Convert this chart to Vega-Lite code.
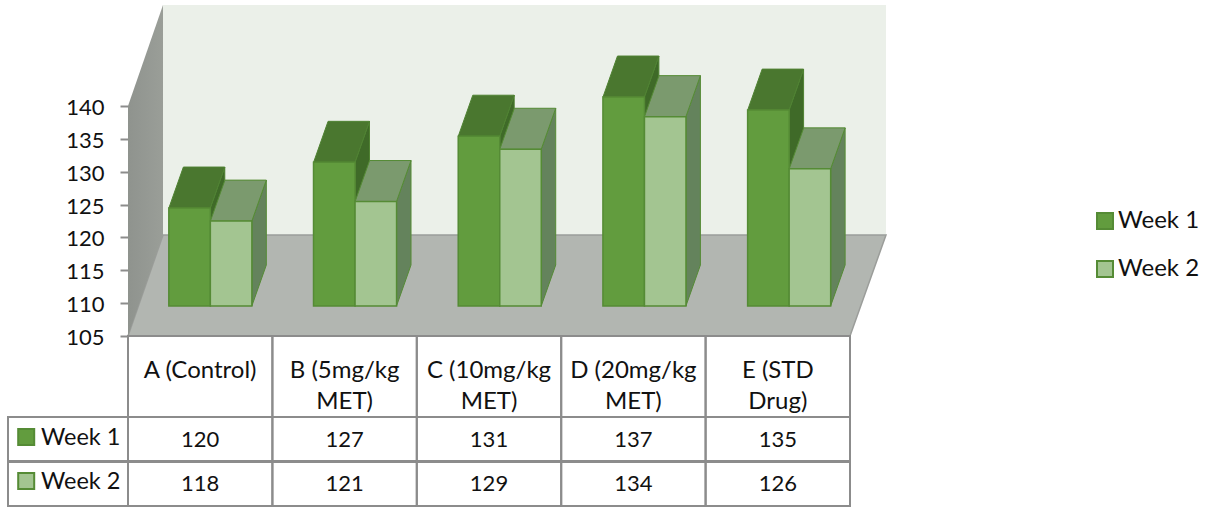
{
  "$schema": "https://vega.github.io/schema/vega-lite/v6.json",
  "width": 1216,
  "height": 507,
  "padding": 0,
  "autosize": {"type": "none"},
  "background": "white",
  "config": {"view": {"stroke": null}, "font": "Lato"},
  "data": {"values": [
    {"group": "A (Control)", "week": "Week 1", "value": 120},
    {"group": "A (Control)", "week": "Week 2", "value": 118},
    {"group": "B (5mg/kg\nMET)", "week": "Week 1", "value": 127},
    {"group": "B (5mg/kg\nMET)", "week": "Week 2", "value": 121},
    {"group": "C (10mg/kg\nMET)", "week": "Week 1", "value": 131},
    {"group": "C (10mg/kg\nMET)", "week": "Week 2", "value": 129},
    {"group": "D (20mg/kg\nMET)", "week": "Week 1", "value": 137},
    {"group": "D (20mg/kg\nMET)", "week": "Week 2", "value": 134},
    {"group": "E (STD\nDrug)", "week": "Week 1", "value": 135},
    {"group": "E (STD\nDrug)", "week": "Week 2", "value": 126}
  ]},
  "resolve": {"scale": {"x": "independent", "y": "independent"}, "axis": {"y": "independent"}},
  "layer": [
    {
      "description": "Chart box: back wall, floor and the left wall carrying the value axis",
      "data": {"values": [{"plane": "chart box"}]},
      "encoding": {
        "x": {"datum": "A (Control)", "type": "nominal", "axis": null,
          "scale": {"type": "band", "domain": ["A (Control)", "B (5mg/kg\nMET)", "C (10mg/kg\nMET)", "D (20mg/kg\nMET)", "E (STD\nDrug)"], "range": [128, 850]}},
        "y": {"datum": 105, "type": "quantitative", "title": null,
          "scale": {"domain": [78.98, 156.13], "range": [507, 0], "nice": false, "zero": false},
          "axis": {"orient": "left", "offset": -128, "values": [105, 110, 115, 120, 125, 130, 135, 140], "grid": false, "domain": false,
            "tickSize": 8, "tickWidth": 2, "tickColor": "#8c8c8c", "labelPadding": 16, "labelFont": "Lato", "labelFontSize": 22, "labelColor": "#111111", "labelBaseline": "middle", "labelOffset": 1.5}}
      },
      "layer": [
        {"mark": {"type": "point", "filled": true, "opacity": 1, "size": 4, "fill": "#ebf0e9", "shape": "M-37.2,-331L685.8,-331L685.8,-101L-37.2,-101Z"}},
        {"mark": {"type": "point", "filled": true, "opacity": 1, "size": 4, "stroke": "#9b9d9a", "strokeWidth": 1.5, "fill": "#b2b6b1", "shape": "M-72.2,0L-37.2,-101L685.8,-101L649.8,0Z"}},
        {"mark": {"type": "point", "filled": true, "opacity": 1, "size": 4,
          "fill": {"gradient": "linear", "x1": 0, "y1": 0, "x2": 1, "y2": 0, "stops": [{"offset": 0, "color": "#8f938e"}, {"offset": 1, "color": "#9a9e98"}]},
          "shape": "M-72.2,-230L-37.2,-331L-37.2,-101L-72.2,0Z"}}
      ]
    },
    {
      "description": "Week 1 column faces first, then Week 2 in front of them",
      "encoding": {
        "x": {"field": "group", "type": "nominal", "axis": null, "sort": null,
          "scale": {"type": "band", "domain": ["A (Control)", "B (5mg/kg\nMET)", "C (10mg/kg\nMET)", "D (20mg/kg\nMET)", "E (STD\nDrug)"], "range": [138, 861.5], "paddingInner": 0.426, "paddingOuter": 0.213}},
        "xOffset": {"field": "week", "type": "nominal", "scale": {"domain": ["Week 1", "Week 2"]}},
        "y": {"field": "value", "type": "quantitative", "axis": null,
          "scale": {"domain": [74.22, 151.86], "range": [507, 0], "nice": false, "zero": false}}
      },
      "layer": [
        {"transform": [{"filter": "datum.week == 'Week 1'"}],
         "mark": {"type": "point", "filled": true, "opacity": 1, "size": 4, "fill": "#3f6a28", "stroke": "#4f8232", "strokeWidth": 1,
           "shape": {"expr": "'M20.7,0L35.2,-41L35.2,' + ((datum.value - 105) * 6.53 - 41) + 'L20.7,' + ((datum.value - 105) * 6.53) + 'Z'"}}},
        {"transform": [{"filter": "datum.week == 'Week 1'"}],
         "mark": {"type": "point", "filled": true, "opacity": 1, "size": 4, "fill": "#4a772f", "stroke": "#4f8232", "strokeWidth": 1, "shape": "M-20.7,0L20.7,0L35.2,-41L-6.2,-41Z"}},
        {"transform": [{"filter": "datum.week == 'Week 1'"}],
         "mark": {"type": "bar", "stroke": "#558b35", "strokeWidth": 1.5},
         "encoding": {"y2": {"datum": 105},
           "color": {"field": "week", "type": "nominal",
             "scale": {"domain": ["Week 1", "Week 2"], "range": ["#629c3e", "#a3c591"]},
             "legend": {"orient": "none", "legendX": 1093, "legendY": 209, "title": null, "symbolType": "square", "symbolSize": 256,
               "symbolStrokeColor": "#558b35", "symbolStrokeWidth": 2, "symbolOpacity": 1, "labelFont": "Lato", "labelFontSize": 24, "labelColor": "#111111", "labelOffset": 1, "rowPadding": 24}}}},
        {"transform": [{"filter": "datum.week == 'Week 2'"}],
         "mark": {"type": "point", "filled": true, "opacity": 1, "size": 4, "fill": "#64835c", "stroke": "#558b35", "strokeWidth": 1,
           "shape": {"expr": "'M20.7,0L35.2,-41L35.2,' + ((datum.value - 105) * 6.53 - 41) + 'L20.7,' + ((datum.value - 105) * 6.53) + 'Z'"}}},
        {"transform": [{"filter": "datum.week == 'Week 2'"}],
         "mark": {"type": "point", "filled": true, "opacity": 1, "size": 4, "fill": "#7b9a6e", "stroke": "#558b35", "strokeWidth": 1, "shape": "M-20.7,0L20.7,0L35.2,-41L-6.2,-41Z"}},
        {"transform": [{"filter": "datum.week == 'Week 2'"}],
         "mark": {"type": "bar", "stroke": "#558b35", "strokeWidth": 1.5},
         "encoding": {"y2": {"datum": 105},
           "color": {"field": "week", "type": "nominal",
             "scale": {"domain": ["Week 1", "Week 2"], "range": ["#629c3e", "#a3c591"]}}}}
      ]
    },
    {
      "description": "Data table under the columns; the category header row hangs above the Week 1 row",
      "encoding": {
        "x": {"field": "group", "type": "nominal", "axis": null, "sort": null,
          "scale": {"type": "band", "domain": ["A (Control)", "B (5mg/kg\nMET)", "C (10mg/kg\nMET)", "D (20mg/kg\nMET)", "E (STD\nDrug)"], "range": [128, 850]}},
        "y": {"field": "week", "type": "ordinal", "axis": null,
          "scale": {"type": "point", "domain": ["Week 1", "Week 2"], "range": [439.5, 483.5], "padding": 0}}
      },
      "layer": [
        {"mark": {"type": "point", "filled": false, "opacity": 1, "size": 4, "stroke": "#8c8c8c", "strokeWidth": 2, "shape": "M-72.2,-22.5L72.2,-22.5L72.2,22.5L-72.2,22.5Z"}},
        {"transform": [{"filter": "datum.week == 'Week 1'"}],
         "mark": {"type": "point", "filled": false, "opacity": 1, "size": 4, "stroke": "#8c8c8c", "strokeWidth": 2, "shape": "M-72.2,-103.5L72.2,-103.5L72.2,-22.5L-72.2,-22.5Z"}},
        {"transform": [{"filter": "datum.group == 'A (Control)'"}],
         "mark": {"type": "point", "filled": false, "opacity": 1, "size": 4, "stroke": "#8c8c8c", "strokeWidth": 2, "shape": "M-192.2,-22.5L-72.2,-22.5L-72.2,22.5L-192.2,22.5Z"}},
        {"transform": [{"filter": "datum.group == 'A (Control)'"}],
         "mark": {"type": "point", "filled": true, "opacity": 1, "size": 4, "stroke": "#558b35", "strokeWidth": 2, "shape": "M-182,-10.5L-166,-10.5L-166,5.5L-182,5.5Z"},
         "encoding": {"fill": {"field": "week", "type": "nominal", "legend": null,
           "scale": {"domain": ["Week 1", "Week 2"], "range": ["#629c3e", "#a3c591"]}}}},
        {"transform": [{"filter": "datum.group == 'A (Control)'"}],
         "mark": {"type": "text", "font": "Lato", "fontSize": 23.5, "color": "#111111", "align": "left", "baseline": "middle", "dx": -159.2, "dy": -2},
         "encoding": {"text": {"field": "week"}}},
        {"mark": {"type": "text", "font": "Lato", "fontSize": 22, "color": "#111111", "align": "center", "baseline": "middle", "dy": 0},
         "encoding": {"text": {"field": "value", "type": "quantitative"}}},
        {"transform": [{"filter": "datum.week == 'Week 1'"}],
         "mark": {"type": "text", "font": "Lato", "fontSize": 24, "color": "#111111", "align": "center", "baseline": "top", "lineBreak": "\n", "lineHeight": 31, "dy": -81},
         "encoding": {"text": {"field": "group"}}}
      ]
    }
  ]
}
